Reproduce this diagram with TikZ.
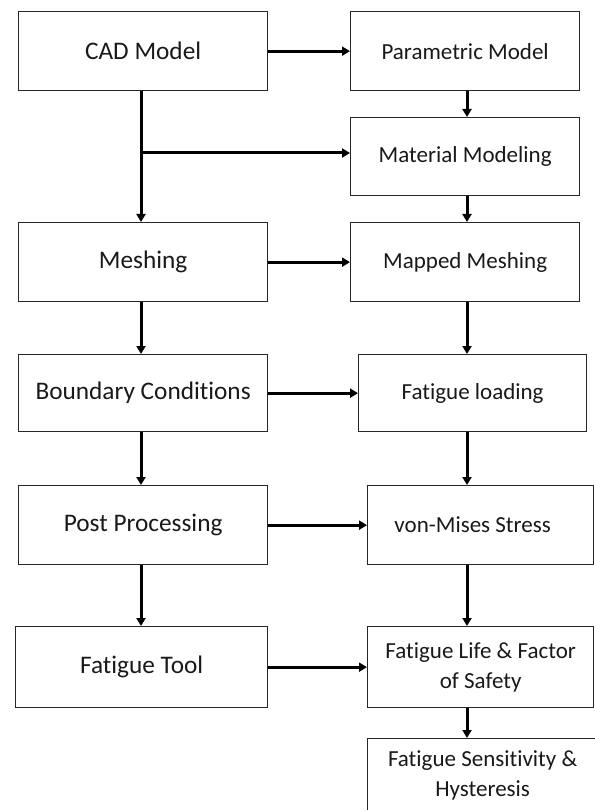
\documentclass[tikz,border=0pt]{standalone}
\usepackage{fontspec}
\setmainfont{Carlito}[Ligatures=NoCommon]
\usetikzlibrary{arrows.meta}
\begin{document}
\begin{tikzpicture}[x=1pt,y=-1pt,
  box/.style={draw=black!85, line width=1.3pt, rectangle, inner sep=0pt, anchor=north west, text=black!90},
  lbox/.style={box, font=\fontsize{25.3}{29}\selectfont},
  rbox/.style={box, font=\fontsize{23}{30}\selectfont, align=center},
  arr/.style={line width=3pt, -{Triangle[length=8pt,width=9pt]}},
  ln/.style={line width=3pt}]
\useasboundingbox (0,0) rectangle (594,810);
% left column
\node[lbox, minimum width=249pt, minimum height=79pt] (cad) at (18,11) {CAD Model};
\node[lbox, minimum width=249pt, minimum height=79pt] (mesh) at (18,222) {Meshing};
\node[lbox, minimum width=249pt, minimum height=77pt] (bc) at (18,354) {Boundary Conditions};
\node[lbox, minimum width=249pt, minimum height=79pt] (post) at (18,485) {Post Processing};
\node[lbox, minimum width=252pt, minimum height=81pt] (tool) at (15,626) {Fatigue Tool};
% right column
\node[rbox, minimum width=229pt, minimum height=79pt] (param) at (350,11) {Parametric Model};
\node[rbox, minimum width=229pt, minimum height=78pt] (mat) at (350,117) {Material Modeling};
\node[rbox, minimum width=229pt, minimum height=79pt] (map) at (350,222) {Mapped Meshing};
\node[rbox, minimum width=228pt, minimum height=77pt] (load) at (358,354) {Fatigue loading};
\node[rbox, minimum width=226pt, minimum height=79pt] (vm) at (367,485) {von-Mises Stress\hspace*{16pt}};
\node[rbox, minimum width=226pt, minimum height=81pt] (life) at (367,626) {Fatigue Life \& Factor\\of Safety};
\node[rbox, minimum width=230pt, minimum height=74pt] (sens) at (367,738) {Fatigue Sensitivity \&\\Hysteresis};
% coordinates
\coordinate (br) at (141,153);
\coordinate (rc) at (467,0);
% left vertical arrows
\draw[ln] (cad.south -| br) -- (br);
\draw[arr] (br) -- (br |- mesh.north);
\draw[arr] (mesh.south -| br) -- (bc.north -| br);
\draw[arr] (bc.south -| br) -- (post.north -| br);
\draw[arr] (post.south -| br) -- (tool.north -| br);
% right vertical arrows
\draw[arr] (param.south -| rc) -- (mat.north -| rc);
\draw[arr] (mat.south -| rc) -- (map.north -| rc);
\draw[arr] (map.south -| rc) -- (load.north -| rc);
\draw[arr] (load.south -| rc) -- (vm.north -| rc);
\draw[arr] (vm.south -| rc) -- (life.north -| rc);
\draw[arr] (life.south -| rc) -- (sens.north -| rc);
% horizontal arrows
\draw[arr] (cad.east) -- (cad.east -| param.west);
\draw[arr] (br) -- (br -| mat.west);
\draw[arr] (mesh.east) -- (mesh.east -| map.west);
\draw[arr] (bc.east) -- (bc.east -| load.west);
\draw[arr] (post.east) -- (post.east -| vm.west);
\draw[arr] (tool.east) -- (tool.east -| life.west);
\end{tikzpicture}
\end{document}
